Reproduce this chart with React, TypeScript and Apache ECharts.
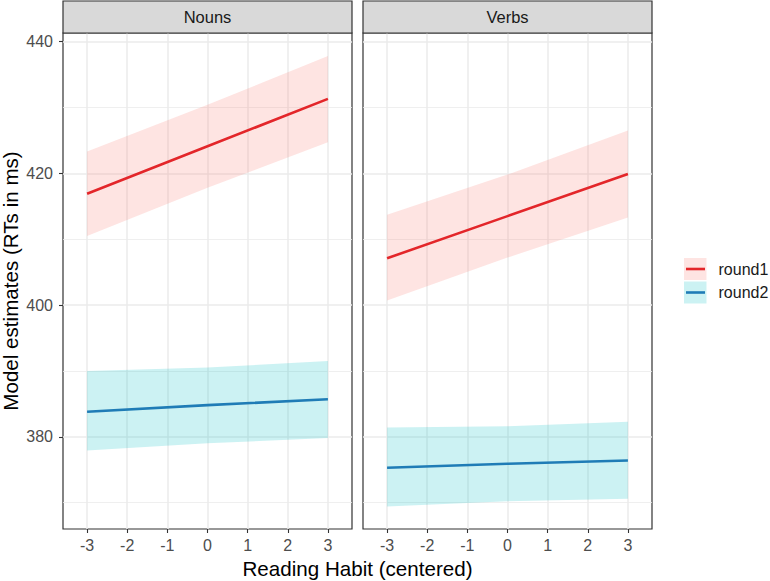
import React, { useEffect, useRef } from "react";
import * as echarts from "echarts";

// ---- data ----
const panels = ["Nouns", "Verbs"];
const seriesNames = ["round1", "round2"];
const xPoints = [-3, 0, 3];
const xTicks = [-3, -2, -1, 0, 1, 2, 3];
const yTicks = [380, 400, 420, 440];
const yMinor = [370, 390, 410, 430];

const nounsRound1Fit = [416.9, 424.1, 431.3];
const nounsRound1Lo = [410.5, 417.8, 424.7];
const nounsRound1Hi = [423.3, 430.4, 437.8];
const nounsRound2Fit = [383.8, 384.8, 385.7];
const nounsRound2Lo = [377.9, 379.0, 379.8];
const nounsRound2Hi = [390.0, 390.5, 391.5];

const verbsRound1Fit = [407.1, 413.5, 419.9];
const verbsRound1Lo = [400.7, 407.2, 413.3];
const verbsRound1Hi = [413.7, 419.8, 426.5];
const verbsRound2Fit = [375.3, 375.9, 376.4];
const verbsRound2Lo = [369.4, 370.2, 370.6];
const verbsRound2Hi = [381.4, 381.6, 382.3];

const panelData = [
  [
    { fit: nounsRound1Fit, lo: nounsRound1Lo, hi: nounsRound1Hi },
    { fit: nounsRound2Fit, lo: nounsRound2Lo, hi: nounsRound2Hi },
  ],
  [
    { fit: verbsRound1Fit, lo: verbsRound1Lo, hi: verbsRound1Hi },
    { fit: verbsRound2Fit, lo: verbsRound2Lo, hi: verbsRound2Hi },
  ],
];

const lineColors = ["#E3262A", "#1F7CB6"];
const ribbonColors = ["rgba(248,118,109,0.2)", "rgba(0,191,196,0.2)"];

const FONT = "'Liberation Sans', Arial, Helvetica, sans-serif";

export default function App() {
  const ref = useRef<HTMLDivElement>(null);

  useEffect(() => {
    if (!ref.current) return;
    const chart = echarts.init(ref.current, null, { renderer: "svg" });

    const gridLeft = [63, 363];
    const gridWidth = 289;
    const gridTop = 33;
    const gridHeight = 496;

    const grids = panels.map((_, p) => ({
      left: gridLeft[p],
      top: gridTop,
      width: gridWidth,
      height: gridHeight,
      show: true,
      backgroundColor: "#ffffff",
      borderColor: "#333333",
      borderWidth: 1.2,
      containLabel: false,
    }));

    const xAxes = panels.map((_, p) => ({
      type: "value",
      gridIndex: p,
      position: "bottom",
      min: -3.6,
      max: 3.6,
      splitLine: { show: false },
      axisLine: { show: false, onZero: false },
      axisTick: {
        show: true,
        customValues: xTicks,
        length: 4,
        lineStyle: { color: "#333333", width: 1.1 },
      },
      axisLabel: {
        customValues: xTicks,
        color: "#4D4D4D",
        fontSize: 16,
        fontFamily: FONT,
        margin: 8,
      },
    }));

    const yAxes = panels.map((_, p) => ({
      type: "value",
      gridIndex: p,
      position: "left",
      min: 366.0,
      max: 441.3,
      splitLine: { show: false },
      axisLine: { show: false, onZero: false },
      axisTick: {
        show: p === 0,
        customValues: yTicks,
        length: 4,
        lineStyle: { color: "#333333", width: 1.1 },
      },
      axisLabel: {
        show: p === 0,
        customValues: yTicks,
        color: "#4D4D4D",
        fontSize: 16,
        fontFamily: FONT,
        margin: 10,
      },
    }));

    const series: any[] = [];
    panels.forEach((_, p) => {
      const markData: any[] = [];
      yMinor.forEach((v) =>
        markData.push({ yAxis: v, lineStyle: { color: "#EBEBEB", width: 0.8, type: "solid" } })
      );
      yTicks.forEach((v) =>
        markData.push({ yAxis: v, lineStyle: { color: "#EBEBEB", width: 1.5, type: "solid" } })
      );
      xTicks.forEach((v) =>
        markData.push({ xAxis: v, lineStyle: { color: "#EBEBEB", width: 1.5, type: "solid" } })
      );
      series.push({
        type: "line",
        name: "grid" + p,
        xAxisIndex: p,
        yAxisIndex: p,
        data: [],
        silent: true,
        z: 1,
        markLine: {
          silent: true,
          symbol: ["none", "none"],
          label: { show: false },
          z: 1,
          animation: false,
          data: markData,
        },
      });

      panelData[p].forEach((d, s) => {
        series.push({
          type: "custom",
          name: seriesNames[s] + " band",
          xAxisIndex: p,
          yAxisIndex: p,
          z: 2,
          silent: true,
          clip: true,
          data: xPoints.map((x, k) => [x, d.lo[k], d.hi[k]]),
          encode: { x: 0, y: [1, 2] },
          renderItem: (params: any, api: any) => {
            if (params.dataIndex !== 0) return null;
            const up = xPoints.map((x, k) => api.coord([x, d.hi[k]]));
            const dn = xPoints.map((x, k) => api.coord([x, d.lo[k]])).reverse();
            return {
              type: "polygon",
              shape: { points: up.concat(dn) },
              style: { fill: ribbonColors[s], stroke: null },
            };
          },
        });
      });

      panelData[p].forEach((d, s) => {
        series.push({
          type: "line",
          name: seriesNames[s],
          xAxisIndex: p,
          yAxisIndex: p,
          z: 3,
          showSymbol: false,
          symbol: "none",
          silent: true,
          data: xPoints.map((x, k) => [x, d.fit[k]]),
          lineStyle: { color: lineColors[s], width: 2.6 },
        });
      });
    });

    const graphics: any[] = [];
    panels.forEach((name, p) => {
      graphics.push({
        type: "rect",
        shape: { x: gridLeft[p], y: 1, width: gridWidth, height: 32 },
        style: { fill: "#D9D9D9", stroke: "#333333", lineWidth: 1.2 },
        z: 10,
      });
      graphics.push({
        type: "text",
        x: gridLeft[p] + gridWidth / 2,
        y: 17,
        style: {
          text: name,
          fill: "#1A1A1A",
          font: `16.5px ${FONT}`,
          textAlign: "center",
          textVerticalAlign: "middle",
        },
        z: 11,
      });
    });

    // axis titles
    graphics.push({
      type: "text",
      x: 357.5,
      y: 568,
      style: {
        text: "Reading Habit (centered)",
        fill: "#000000",
        font: `20.6px ${FONT}`,
        textAlign: "center",
        textVerticalAlign: "middle",
      },
    });
    graphics.push({
      type: "text",
      x: 10,
      y: 281,
      rotation: Math.PI / 2,
      style: {
        text: "Model estimates (RTs in ms)",
        fill: "#000000",
        font: `20.6px ${FONT}`,
        textAlign: "center",
        textVerticalAlign: "middle",
      },
    });

    // legend
    const legendY = [258, 281.5];
    seriesNames.forEach((nm, s) => {
      graphics.push({
        type: "rect",
        shape: { x: 684, y: legendY[s], width: 22.5, height: 22 },
        style: { fill: ribbonColors[s] },
      });
      graphics.push({
        type: "line",
        shape: {
          x1: 686,
          y1: legendY[s] + 11,
          x2: 705,
          y2: legendY[s] + 11,
        },
        style: { stroke: lineColors[s], lineWidth: 2.6 },
      });
      graphics.push({
        type: "text",
        x: 718.5,
        y: legendY[s] + 11,
        style: {
          text: nm,
          fill: "#1A1A1A",
          font: `16px ${FONT}`,
          textAlign: "left",
          textVerticalAlign: "middle",
        },
      });
    });

    chart.setOption({
      animation: false,
      backgroundColor: "#ffffff",
      grid: grids,
      xAxis: xAxes,
      yAxis: yAxes,
      series,
      graphic: graphics,
    });

    return () => chart.dispose();
  }, []);

  return (
    <div
      ref={ref}
      style={{ position: "fixed", left: 0, top: 0, width: 770, height: 581 }}
    />
  );
}
